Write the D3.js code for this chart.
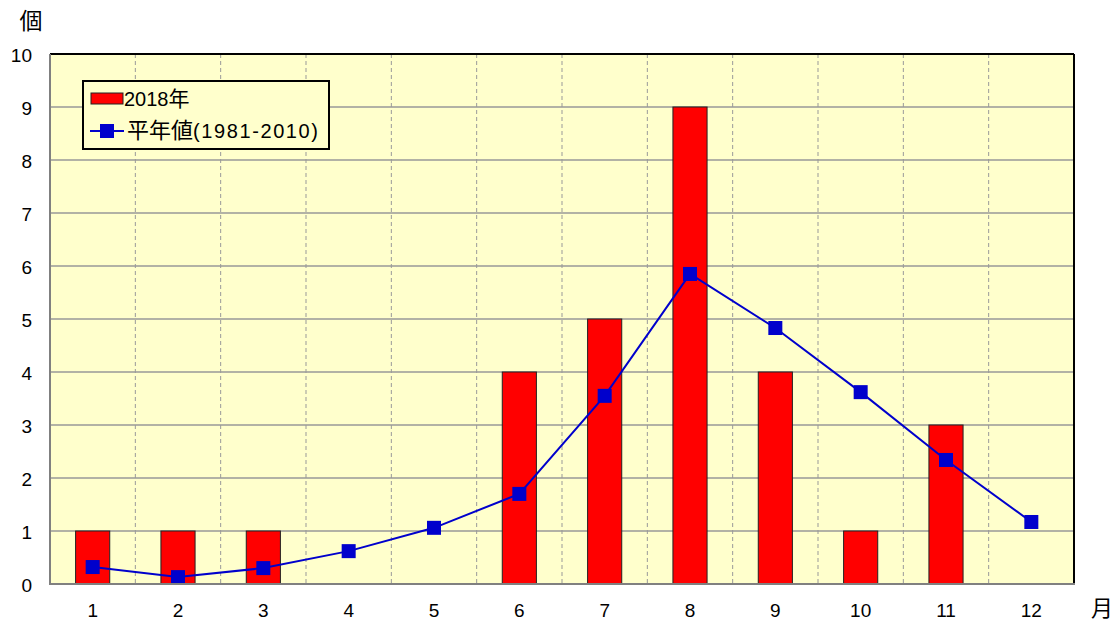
<!DOCTYPE html>
<html><head><meta charset="utf-8">
<script src="https://cdn.jsdelivr.net/npm/d3@7"></script>
<style>body{margin:0;background:#fff;}svg{display:block;font-family:"Liberation Sans",Arial,sans-serif;}</style>
</head><body>
<svg id="c" width="1119" height="624"></svg>
<script>
const months = ["1","2","3","4","5","6","7","8","9","10","11","12"];
const counts2018 = [1,1,1,0,0,4,5,9,4,1,3,0];
const normals = [0.32,0.13,0.30,0.62,1.06,1.70,3.55,5.85,4.83,3.62,2.34,1.17];
const yTicks = [0,1,2,3,4,5,6,7,8,9,10];
const seriesNames = ["2018年","平年値","(1981-2010)"];

const svg = d3.select("#c");
const L=50,R=1074,T=54,B=584;
const x = d3.scaleBand().domain(months).range([L,R]).padding(0);
const y = d3.scaleLinear().domain([0,10]).range([B,T]);

svg.append("rect").attr("x",L).attr("y",T).attr("width",R-L).attr("height",B-T).attr("fill","#FFFFCC");

svg.append("g").selectAll("line").data(yTicks.slice(1,-1)).join("line")
  .attr("x1",L).attr("x2",R).attr("y1",d=>y(d)).attr("y2",d=>y(d))
  .attr("stroke","#999").attr("stroke-width",1.5);
svg.append("g").selectAll("line").data(months.slice(1)).join("line")
  .attr("x1",d=>x(d)).attr("x2",d=>x(d)).attr("y1",T).attr("y2",B)
  .attr("stroke","#999").attr("stroke-width",1).attr("stroke-dasharray","4,3");

const bw = x.bandwidth()*0.4;
svg.append("g").selectAll("rect").data(months.map((m,i)=>({m,v:counts2018[i]})).filter(d=>d.v>0)).join("rect")
  .attr("x",d=>x(d.m)+x.bandwidth()/2-bw/2).attr("width",bw)
  .attr("y",d=>y(d.v)).attr("height",d=>y(0)-y(d.v))
  .attr("fill","#FF0000").attr("stroke","#222").attr("stroke-width",1);

const cx = m=>x(m)+x.bandwidth()/2;
svg.append("path").datum(months.map((m,i)=>[cx(m),y(normals[i])]))
  .attr("d",d3.line()).attr("fill","none").attr("stroke","#0000CC").attr("stroke-width",2);
svg.append("g").selectAll("rect").data(months.map((m,i)=>({m,v:normals[i]}))).join("rect")
  .attr("x",d=>cx(d.m)-7).attr("y",d=>y(d.v)-7).attr("width",14).attr("height",14)
  .attr("fill","#0000CC");

svg.append("line").attr("x1",L).attr("x2",R).attr("y1",T).attr("y2",T).attr("stroke","#000").attr("stroke-width",2);
svg.append("line").attr("x1",R).attr("x2",R).attr("y1",T).attr("y2",B).attr("stroke","#000").attr("stroke-width",2);
svg.append("line").attr("x1",L).attr("x2",L).attr("y1",T).attr("y2",B+1).attr("stroke","#808080").attr("stroke-width",2);
svg.append("line").attr("x1",L-1).attr("x2",R+1).attr("y1",B).attr("y2",B).attr("stroke","#808080").attr("stroke-width",2);

svg.append("g").selectAll("text").data(yTicks).join("text")
  .attr("x",32).attr("y",d=>y(d)+1).attr("dy","0.35em").attr("text-anchor","end")
  .attr("font-size",19).text(d=>d);
svg.append("g").selectAll("text").data(months).join("text")
  .attr("x",d=>cx(d)).attr("y",610).attr("dy","0.35em").attr("text-anchor","middle")
  .attr("font-size",19).text(d=>d);
svg.append("text").attr("x",31).attr("y",20).attr("dy","0.38em").attr("font-size",23).attr("text-anchor","middle")
  .attr("font-family","Noto Sans CJK JP").text("個");
svg.append("text").attr("x",1102).attr("y",608).attr("dy","0.36em").attr("font-size",22).attr("text-anchor","middle")
  .attr("font-family","Noto Sans CJK JP").text("月");

const lg = svg.append("g");
lg.append("rect").attr("x",83).attr("y",81).attr("width",246).attr("height",68)
  .attr("fill","#FFFFCC").attr("stroke","#000").attr("stroke-width",2);
lg.append("rect").attr("x",91).attr("y",93).attr("width",32).attr("height",11)
  .attr("fill","#FF0000").attr("stroke","#222").attr("stroke-width",1);
lg.append("line").attr("x1",90).attr("x2",124).attr("y1",131).attr("y2",131).attr("stroke","#0000CC").attr("stroke-width",2);
lg.append("rect").attr("x",100).attr("y",124).attr("width",14).attr("height",14).attr("fill","#0000CC");
const t1 = lg.append("text").attr("x",124).attr("y",99).attr("dy","0.35em").attr("font-size",20);
t1.append("tspan").text("2018");
t1.append("tspan").attr("font-size",21).attr("font-family","Noto Sans CJK JP").text("年");
const t2 = lg.append("text").attr("x",127).attr("y",131).attr("dy","0.35em").attr("font-size",20);
t2.append("tspan").attr("font-size",22).attr("font-family","Noto Sans CJK JP").text(seriesNames[1]);
t2.append("tspan").attr("letter-spacing","1.6px").text(seriesNames[2]);
</script>
</body></html>
